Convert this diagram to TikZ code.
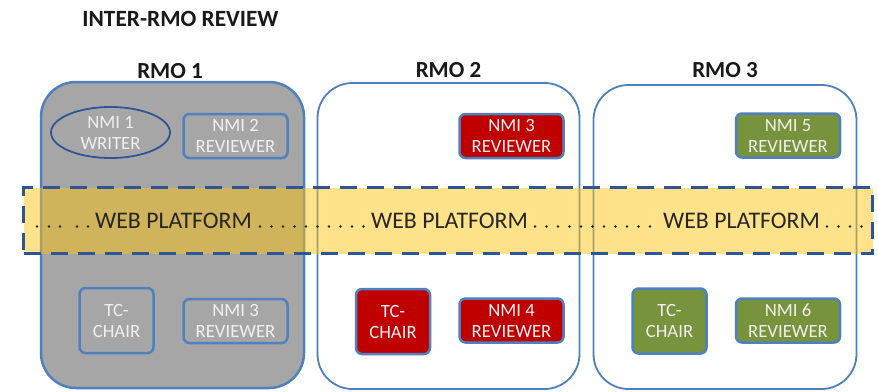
\documentclass[tikz,border=0pt]{standalone}
\usepackage{fontspec}
\setmainfont{Carlito}
\usetikzlibrary{shapes.geometric}

\definecolor{rmoblue}{HTML}{4F81BD}
\definecolor{darkblue}{HTML}{2F5597}
\definecolor{boxgray}{HTML}{A6A6A6}
\definecolor{nmired}{HTML}{C00000}
\definecolor{nmigreen}{HTML}{77933C}
\definecolor{bandyellow}{RGB}{255,196,10}
\definecolor{inktext}{HTML}{262626}
\definecolor{softwhite}{HTML}{F0F0F0}

\tikzset{
  heading/.style={font=\bfseries\fontsize{23}{26}\selectfont, text=black!90, anchor=base, inner sep=0pt},
  rmoframe/.style={draw=rmoblue, rectangle, rounded corners=35pt, inner sep=0pt},
  unitbox/.style={draw=rmoblue, line width=2.5pt, rectangle, rounded corners=6pt,
    text=softwhite, align=center, inner sep=0pt,
    font=\fontsize{18.7}{21}\selectfont},
  widebox/.style={unitbox, minimum width=104pt, minimum height=44pt},
  chairbox/.style={unitbox, minimum width=74pt, minimum height=65pt},
  platform/.style={draw=darkblue, line width=3.2pt, dash pattern=on 17pt off 10pt,
    fill=bandyellow, fill opacity=0.48, draw opacity=1, inner sep=0pt},
  platformtext/.style={font=\fontsize{23.8}{26}\selectfont, text=inktext, anchor=base, inner sep=0pt},
  leader/.style={fill=inktext}
}

\begin{document}
\begin{tikzpicture}[x=1pt, y=-1pt]
  \path[use as bounding box, fill=white] (0,0) rectangle (878,391);

  % headings
  \node[heading, font=\bfseries\fontsize{23.3}{26}\selectfont] (title) at (180.5,26) {INTER-RMO REVIEW};
  \node[heading] (lab1) at (170,78) {RMO 1};
  \node[heading] (lab2) at (448.5,77) {RMO 2};
  \node[heading] (lab3) at (725,77) {RMO 3};

  % RMO containers
  \node[rmoframe, fill=boxgray, line width=2.5pt, minimum width=263pt, minimum height=306pt] (rmo1) at (172.5,235) {};
  \node[rmoframe, fill=white, line width=1.8pt, minimum width=262pt, minimum height=306pt] (rmo2) at (448.5,236) {};
  \node[rmoframe, fill=white, line width=1.8pt, minimum width=263pt, minimum height=304pt] (rmo3) at (725,237) {};

  % RMO 1 members
  \node[ellipse, draw=darkblue, line width=1.8pt, fill=boxgray, minimum width=119pt, minimum height=51pt,
        inner sep=0pt, text=softwhite, align=center, font=\fontsize{18.7}{21}\selectfont] (writer) at (110.5,132.5) {NMI 1\\WRITER};
  \node[widebox, fill=boxgray] (nmi2) at (235.5,136) {NMI 2\\REVIEWER};
  \node[chairbox, fill=boxgray] (chair1) at (116.5,320.5) {TC-\\CHAIR};
  \node[widebox, fill=boxgray] (nmi3a) at (235.5,321) {NMI 3\\REVIEWER};

  % RMO 2 members
  \node[widebox, fill=nmired] (nmi3b) at (511.5,136) {NMI 3\\REVIEWER};
  \node[chairbox, fill=nmired] (chair2) at (393,321.5) {TC-\\CHAIR};
  \node[widebox, fill=nmired] (nmi4) at (511.5,320.5) {NMI 4\\REVIEWER};

  % RMO 3 members
  \node[widebox, fill=nmigreen] (nmi5) at (788,135.5) {NMI 5\\REVIEWER};
  \node[chairbox, fill=nmigreen] (chair3) at (669.5,321) {TC-\\CHAIR};
  \node[widebox, fill=nmigreen] (nmi6) at (788,320.5) {NMI 6\\REVIEWER};

  % shared web platform band across all RMOs
  \node[platform, minimum width=849pt, minimum height=66pt] (band) at (448,220.5) {};

  \node[platformtext] (web1) at (173.5,228) {WEB PLATFORM};
  \node[platformtext] (web2) at (449.5,228) {WEB PLATFORM};
  \node[platformtext] (web3) at (741.5,228) {WEB PLATFORM};

  % dotted leaders between the labels
  \foreach \x in {37,49,60,77,88}
    \fill[leader] (\x,226.5) circle (1.3pt);
  \foreach \x in {260,271.5,283,294.5,306,317.5,329,340.5,352,363.5}
    \fill[leader] (\x,226.5) circle (1.3pt);
  \foreach \x in {535,546.5,558,569.5,581,592.5,604,615.5,627,638.5,650}
    \fill[leader] (\x,226.5) circle (1.3pt);
  \foreach \x in {827,838.5,850,861.5}
    \fill[leader] (\x,226.5) circle (1.3pt);
\end{tikzpicture}
\end{document}
